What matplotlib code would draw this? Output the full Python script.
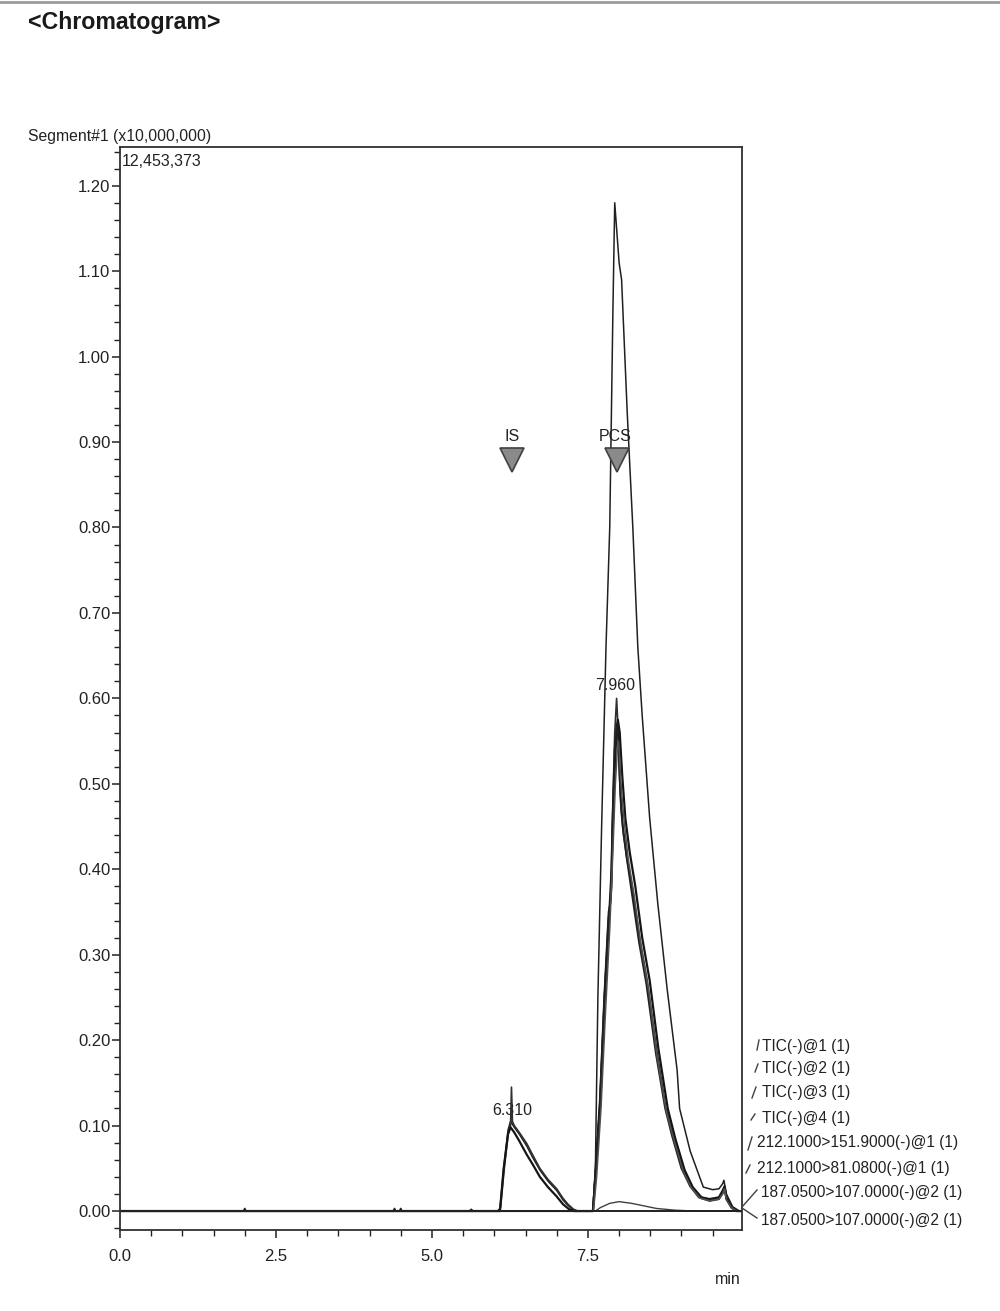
import matplotlib
matplotlib.use("Agg")
import matplotlib.pyplot as plt
from matplotlib.ticker import MultipleLocator, FormatStrFormatter
from matplotlib.lines import Line2D

plt.rcParams['font.family'] = ['Liberation Sans', 'DejaVu Sans']

# ---------------- data (time in min, intensity in x10,000,000) ----------------
tic1_t = [0.0, 6.05, 6.09, 6.15, 6.22, 6.26, 6.32, 6.40, 6.52, 6.62, 6.73, 6.86, 7.00, 7.10, 7.16, 7.25, 7.32,
          7.58, 7.62, 7.66, 7.72, 7.79, 7.85, 7.90, 7.93, 7.96, 8.00, 8.04, 8.13, 8.22, 8.30, 8.37, 8.49, 8.62,
          8.77, 8.93, 8.97, 9.14, 9.35, 9.50, 9.60, 9.66, 9.68, 9.72, 9.82, 9.93, 9.97]
tic1_y = [0.0, 0.0, 0.003, 0.05, 0.095, 0.105, 0.098, 0.09, 0.076, 0.062, 0.048, 0.035, 0.024, 0.013, 0.008, 0.002, 0.0,
          0.0, 0.05, 0.25, 0.45, 0.66, 0.80, 1.05, 1.18, 1.15, 1.11, 1.09, 0.935, 0.80, 0.66, 0.58, 0.46, 0.36,
          0.26, 0.165, 0.12, 0.07, 0.028, 0.025, 0.026, 0.032, 0.036, 0.02, 0.005, 0.0, 0.0]

tic2_t = [0.0, 6.07, 6.10, 6.16, 6.22, 6.26, 6.275, 6.29, 6.32, 6.40, 6.52, 6.62, 6.73, 6.86, 7.00, 7.10, 7.18, 7.27, 7.34,
          7.58, 7.62, 7.69, 7.76, 7.83, 7.86, 7.88, 7.89, 7.93, 7.96, 7.98, 8.00, 8.03, 8.07, 8.13, 8.21, 8.33, 8.45,
          8.60, 8.75, 8.86, 9.02, 9.15, 9.29, 9.45, 9.60, 9.66, 9.69, 9.72, 9.80, 9.88, 9.97]
tic2_y = [0.0, 0.0, 0.004, 0.05, 0.09, 0.10, 0.145, 0.105, 0.10, 0.092, 0.079, 0.065, 0.05, 0.037, 0.026, 0.015, 0.008, 0.002, 0.0,
          0.0, 0.05, 0.13, 0.25, 0.35, 0.36, 0.38, 0.45, 0.56, 0.60, 0.57, 0.52, 0.47, 0.44, 0.41, 0.38, 0.32, 0.27,
          0.19, 0.12, 0.09, 0.05, 0.03, 0.017, 0.013, 0.015, 0.022, 0.028, 0.015, 0.005, 0.0, 0.0]

tic3_t = [0.0, 6.09, 6.15, 6.22, 6.26, 6.32, 6.40, 6.52, 6.62, 6.73, 6.86, 7.00, 7.10, 7.20, 7.28,
          7.58, 7.63, 7.70, 7.77, 7.83, 7.88, 7.92, 7.96, 7.98, 8.01, 8.05, 8.10, 8.17, 8.26, 8.37, 8.49,
          8.63, 8.78, 8.90, 9.05, 9.18, 9.32, 9.45, 9.60, 9.66, 9.69, 9.72, 9.80, 9.88, 9.97]
tic3_y = [0.0, 0.0, 0.05, 0.09, 0.098, 0.092, 0.082, 0.066, 0.054, 0.04, 0.028, 0.017, 0.008, 0.002, 0.0,
          0.0, 0.05, 0.13, 0.25, 0.33, 0.40, 0.50, 0.565, 0.575, 0.56, 0.51, 0.46, 0.42, 0.38, 0.32, 0.27,
          0.19, 0.12, 0.085, 0.048, 0.028, 0.016, 0.014, 0.016, 0.024, 0.029, 0.016, 0.005, 0.0, 0.0]

tic4_t = [0.0, 7.58, 7.62, 7.69, 7.76, 7.83, 7.87, 7.89, 7.93, 7.97, 7.99, 8.02, 8.06, 8.12, 8.20, 8.32, 8.44,
          8.59, 8.74, 8.85, 9.00, 9.14, 9.28, 9.45, 9.60, 9.66, 9.69, 9.72, 9.80, 9.88, 9.97]
tic4_y = [0.0, 0.0, 0.04, 0.12, 0.24, 0.34, 0.37, 0.44, 0.54, 0.57, 0.55, 0.49, 0.45, 0.415, 0.375, 0.315, 0.265,
          0.185, 0.12, 0.088, 0.05, 0.029, 0.016, 0.012, 0.014, 0.021, 0.027, 0.014, 0.004, 0.0, 0.0]

mrm1_t = [0.0, 7.59, 7.64, 7.71, 7.78, 7.85, 7.90, 7.94, 7.98, 8.00, 8.04, 8.09, 8.15, 8.24, 8.35, 8.47,
          8.61, 8.76, 8.88, 9.03, 9.16, 9.30, 9.45, 9.60, 9.66, 9.69, 9.72, 9.80, 9.88, 9.97]
mrm1_y = [0.0, 0.0, 0.04, 0.12, 0.23, 0.33, 0.42, 0.50, 0.55, 0.54, 0.49, 0.45, 0.41, 0.37, 0.31, 0.26,
          0.18, 0.115, 0.083, 0.046, 0.027, 0.015, 0.012, 0.014, 0.02, 0.026, 0.013, 0.004, 0.0, 0.0]

mrm2_t = [0.0, 7.62, 7.70, 7.85, 8.00, 8.20, 8.40, 8.60, 8.90, 9.20, 9.97]
mrm2_y = [0.0, 0.0, 0.004, 0.009, 0.011, 0.009, 0.006, 0.003, 0.001, 0.0, 0.0]

mrm3_t = [0.0, 1.98, 2.00, 2.02, 4.38, 4.40, 4.42, 4.48, 4.50, 4.52, 5.60, 5.63, 5.66, 9.97]
mrm3_y = [0.0, 0.0, 0.003, 0.0, 0.0, 0.003, 0.0, 0.0, 0.003, 0.0, 0.0, 0.002, 0.0, 0.0]

mrm4_t = [0.0, 9.97]
mrm4_y = [0.0, 0.0]

trace_labels = ["TIC(-)@1 (1)", "TIC(-)@2 (1)", "TIC(-)@3 (1)", "TIC(-)@4 (1)",
                "212.1000>151.9000(-)@1 (1)", "212.1000>81.0800(-)@1 (1)",
                "187.0500>107.0000(-)@2 (1)", "187.0500>107.0000(-)@2 (1)"]

peak_names = ["IS", "PCS"]
peak_marker_times = [6.28, 7.96]
peak_rt_labels = ["6.310", "7.960"]

# ---------------- figure ----------------
W, H = 1000, 1311
fig = plt.figure(figsize=(W / 100, H / 100), dpi=100)

def fx(x):
    return x / W

def fy(y):
    return 1 - y / H

ax = fig.add_axes([fx(120), fy(1230), fx(742) - fx(120), fy(147) - fy(1230)])

traces = [(tic1_t, tic1_y, '#202020', 1.1), (tic2_t, tic2_y, '#303030', 1.2),
          (tic3_t, tic3_y, '#151515', 1.6), (tic4_t, tic4_y, '#202020', 1.5),
          (mrm1_t, mrm1_y, '#505050', 1.1), (mrm2_t, mrm2_y, '#404040', 1.0),
          (mrm3_t, mrm3_y, '#202020', 1.2), (mrm4_t, mrm4_y, '#202020', 1.2)]
for t, y, c, lw in traces:
    ax.plot(t, y, color=c, lw=lw, solid_joinstyle='round')

ax.set_xlim(0, 9.97)
ax.set_ylim(-0.0222, 1.2453)

FS = 11.5
ax.xaxis.set_major_locator(MultipleLocator(2.5))
ax.xaxis.set_minor_locator(MultipleLocator(0.5))
ax.yaxis.set_major_locator(MultipleLocator(0.1))
ax.yaxis.set_minor_locator(MultipleLocator(0.02))
ax.xaxis.set_major_formatter(FormatStrFormatter('%.1f'))
ax.yaxis.set_major_formatter(FormatStrFormatter('%.2f'))
ax.tick_params(axis='both', which='major', direction='out', length=6, width=1.1, labelsize=FS + 0.5, colors='#222222')
ax.tick_params(axis='both', which='minor', direction='out', length=4, width=1.0, colors='#222222')
ax.tick_params(axis='x', pad=8)
ax.tick_params(axis='y', pad=1)
for s in ax.spines.values():
    s.set_color('#303030')
    s.set_linewidth(1.3)

# peak markers
ax.plot(peak_marker_times, [0.879] * len(peak_marker_times), linestyle='none', marker='v', markersize=17,
        markerfacecolor='#8a8a8a', markeredgecolor='#404040', markeredgewidth=1.2)
ax.text(6.28, 0.906, peak_names[0], ha='center', va='center', fontsize=FS, color='#222222')
ax.text(7.93, 0.906, peak_names[1], ha='center', va='center', fontsize=FS, color='#222222')
ax.text(6.28, 0.118, peak_rt_labels[0], ha='center', va='center', fontsize=FS, color='#222222', zorder=1)
ax.text(7.93, 0.615, peak_rt_labels[1], ha='center', va='center', fontsize=FS, color='#222222')
ax.text(0.03, 1.228, "12,453,373", ha='left', va='center', fontsize=FS, color='#222222')

# figure texts
fig.text(fx(28), fy(22), "<Chromatogram>", ha='left', va='center', fontsize=16.7, fontweight='bold', color='#1a1a1a')
fig.text(fx(28), fy(136), "Segment#1 (x10,000,000)", ha='left', va='center', fontsize=11.3, color='#222222')
fig.text(fx(728), fy(1280), "min", ha='center', va='center', fontsize=FS, color='#222222')
fig.add_artist(Line2D([0, 1], [fy(2), fy(2)], color='#9a9a9a', lw=2))

label_pos = [(762, 1046), (762, 1068), (762, 1093), (762, 1118),
             (757, 1143), (757, 1168), (761, 1193), (761, 1220)]
for lab, (lx, ly) in zip(trace_labels, label_pos):
    fig.text(fx(lx), fy(ly), lab, ha='left', va='center', fontsize=11.2, color='#222222')
# short leader marks
leaders = [((757, 1050), (759, 1040)), ((755, 1072), (758, 1064)), ((752, 1098), (756, 1087)),
           ((751, 1120), (755, 1114)), ((748, 1150), (752, 1137)), ((746, 1173), (750, 1165)),
           ((742, 1207), (757, 1190)), ((742, 1208), (757, 1218))]
for (x0, y0), (x1, y1) in leaders:
    fig.add_artist(Line2D([fx(x0), fx(x1)], [fy(y0), fy(y1)], color='#404040', lw=1.0))

fig.savefig("out.png", dpi=100)
